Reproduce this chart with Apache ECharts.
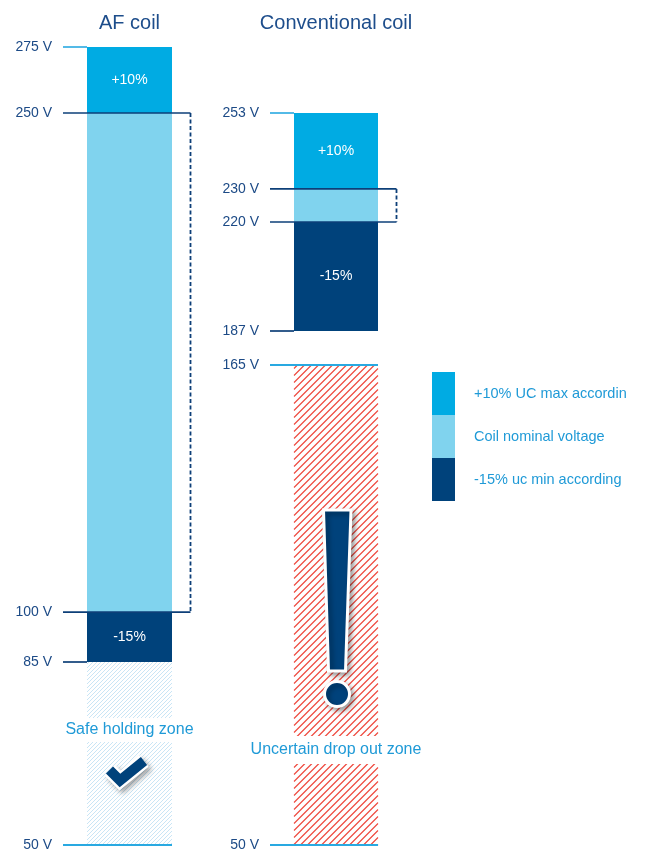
<!DOCTYPE html>
<html><head><meta charset="utf-8">
<script src="https://cdn.jsdelivr.net/npm/echarts@6/dist/echarts.min.js"></script>
<style>html,body{margin:0;padding:0;background:#fff}#c{width:648px;height:851px}</style>
</head><body><div id="c"></div>
<script>
// ---------------- data ----------------
const coilNames   = ['AF coil', 'Conventional coil'];
const ucMax       = [275, 253];   // +10 % upper limit
const nominalHigh = [250, 230];   // coil nominal voltage, upper
const nominalLow  = [100, 220];   // coil nominal voltage, lower
const ucMin       = [85, 187];    // -15 % lower limit
const zoneTop     = [85, 165];    // top of holding / drop-out zone
const zoneBottom  = [50, 50];     // bottom of zone
const bandTexts   = ['+10%', '-15%'];
const zoneTexts   = ['Safe holding zone', 'Uncertain drop out zone'];
const legendNames = ['+10% UC max accordin', 'Coil nominal voltage', '-15% uc min according'];

// ---------------- styles ----------------
const FONT = '"Liberation Sans", Arial, Helvetica, sans-serif';
const C = {
  plus: '#00abe3', nom: '#80d3ee', minus: '#00427b',
  dark: '#0d3f78', light: '#29a9e1', label: '#1c4a86', title: '#1d4d8b',
  zone: '#1f9ad7', red: '#ee4337', blueHatch: '#c9e5f5'
};

// piecewise schematic scale: one linear grid per segment
const grids = [
  {coil: 0, left: 87,  width: 85, top: 47,  height: 66,  min: nominalHigh[0], max: ucMax[0], labels: [ucMax[0]], title: true, gap: 14},
  {coil: 0, left: 87,  width: 85, top: 113, height: 549, min: ucMin[0], max: nominalHigh[0], labels: [nominalHigh[0], nominalLow[0], ucMin[0]]},
  {coil: 0, left: 87,  width: 85, top: 662, height: 183, min: zoneBottom[0], max: zoneTop[0], labels: [zoneBottom[0]]},
  {coil: 1, left: 294, width: 84, top: 113, height: 218, min: ucMin[1], max: ucMax[1], labels: [ucMax[1], nominalHigh[1], nominalLow[1], ucMin[1]], title: true, gap: 80},
  {coil: 1, left: 294, width: 84, top: 365, height: 480, min: zoneBottom[1], max: zoneTop[1], labels: [zoneTop[1], zoneBottom[1]]}
];

const yOf = (api, v) => api.coord([0, v])[1];

function band(gi, lo, hi, color, name, text) {
  return {
    type: 'custom', name, xAxisIndex: gi, yAxisIndex: gi, z: 2, silent: true,
    itemStyle: {color}, encode: {x: 0, y: [1, 2]}, data: [[0, lo, hi]],
    renderItem: (params, api) => {
      const cs = params.coordSys;
      const yH = yOf(api, api.value(2)), yL = yOf(api, api.value(1));
      const ch = [{type: 'rect', shape: {x: cs.x, y: yH, width: cs.width, height: yL - yH}, style: {fill: color}}];
      if (text) ch.push({type: 'text', style: {text, x: cs.x + cs.width / 2, y: (yH + yL) / 2,
        fill: '#fff', fontSize: 14, fontFamily: FONT, align: 'center', verticalAlign: 'middle'}});
      return {type: 'group', children: ch};
    }
  };
}

function tick(gi, values, color, full, width) {
  return {
    type: 'custom', xAxisIndex: gi, yAxisIndex: gi, z: 5, silent: true,
    encode: {x: 0, y: 1}, data: values.map(v => [0, v]),
    renderItem: (params, api) => {
      const cs = params.coordSys, y = yOf(api, api.value(1));
      return {type: 'line', shape: {x1: cs.x - 24, y1: y, x2: full ? cs.x + cs.width : cs.x, y2: y},
        style: {stroke: color, lineWidth: width}};
    }
  };
}

function bracket(gi, lo, hi) {
  return {
    type: 'custom', xAxisIndex: gi, yAxisIndex: gi, z: 5, silent: true,
    encode: {x: 0, y: [1, 2]}, data: [[0, lo, hi]],
    renderItem: (params, api) => {
      const cs = params.coordSys;
      const yH = yOf(api, api.value(2)), yL = yOf(api, api.value(1));
      const x0 = cs.x - 24, x1 = cs.x + cs.width + 18.5;
      const st = {stroke: C.dark, lineWidth: 1.7};
      return {type: 'group', children: [
        {type: 'line', shape: {x1: x0, y1: yH, x2: x1, y2: yH}, style: st},
        {type: 'line', shape: {x1: x0, y1: yL, x2: x1, y2: yL}, style: st},
        {type: 'line', shape: {x1: x1, y1: yH, x2: x1, y2: yL}, style: {stroke: C.dark, lineWidth: 1.8, lineDash: [4, 2.5]}}
      ]};
    }
  };
}

function hatch(x0, y0, x1, y1, step, style) {
  const out = [];
  for (let c = x0 + y0 + step / 2; c < x1 + y1; c += step) {
    const xa = Math.max(x0, c - y1), xb = Math.min(x1, c - y0);
    if (xb <= xa) continue;
    out.push({type: 'line', shape: {x1: xa, y1: c - xa, x2: xb, y2: c - xb}, style});
  }
  return out;
}

const iconShadow = {shadowBlur: 5, shadowColor: 'rgba(0,0,0,0.35)', shadowOffsetX: 3, shadowOffsetY: 3};

function zone(gi, lo, hi, kind) {
  return {
    type: 'custom', xAxisIndex: gi, yAxisIndex: gi, z: 3, silent: true,
    encode: {x: 0, y: [1, 2]}, data: [[0, lo, hi]],
    renderItem: (params, api) => {
      const cs = params.coordSys;
      const yH = yOf(api, api.value(2)), yL = yOf(api, api.value(1));
      const cx = cs.x + cs.width / 2;
      let ch;
      if (kind === 0) {
        ch = hatch(cs.x, yH, cs.x + cs.width, yL, 4, {stroke: C.blueHatch, lineWidth: 1});
        ch.push({type: 'text', style: {text: zoneTexts[0], x: cx, y: yH + 68, fill: C.zone, fontSize: 16,
          fontFamily: FONT, align: 'center', verticalAlign: 'middle', backgroundColor: '#fff', padding: [4, 2]}});
        const yc = yH + 111;
        const pts = [[cx - 20, yc - 3], [cx - 9.5, yc + 7.5], [cx + 14.5, yc - 12]];
        ch.push({type: 'polyline', shape: {points: pts}, style: Object.assign({stroke: '#fff', lineWidth: 15, fill: null, lineJoin: 'miter'}, iconShadow)});
        ch.push({type: 'polyline', shape: {points: pts}, style: {stroke: C.minus, lineWidth: 10, fill: null, lineJoin: 'miter'}});
      } else {
        ch = hatch(cs.x, yH, cs.x + cs.width, yL, 7, {stroke: C.red, lineWidth: 1.1});
        const bar = [[cx - 12.5, yH + 145], [cx + 15, yH + 145], [cx + 9.5, yH + 306], [cx - 7.5, yH + 306]];
        ch.push({type: 'polygon', shape: {points: bar}, style: Object.assign({fill: C.minus, stroke: '#fff', lineWidth: 3}, iconShadow)});
        ch.push({type: 'circle', shape: {cx: cx + 1, cy: yH + 329, r: 12.5}, style: Object.assign({fill: C.minus, stroke: '#fff', lineWidth: 3}, iconShadow)});
        ch.push({type: 'text', style: {text: zoneTexts[1], x: cx, y: yH + 385, fill: C.zone, fontSize: 16,
          fontFamily: FONT, align: 'center', verticalAlign: 'middle', backgroundColor: '#fff', padding: [6, 2]}});
      }
      return {type: 'group', children: ch};
    }
  };
}

const option = {
  animation: false,
  backgroundColor: '#fff',
  textStyle: {fontFamily: FONT},
  grid: grids.map(g => ({left: g.left, top: g.top, width: g.width, height: g.height, containLabel: false, outerBoundsMode: 'none'})),
  xAxis: grids.map((g, i) => ({
    gridIndex: i, type: 'category', data: [coilNames[g.coil]], position: 'top', show: !!g.title,
    name: g.title ? coilNames[g.coil] : '', nameLocation: 'middle', nameGap: g.gap || 0,
    nameTextStyle: {color: C.title, fontSize: 20, fontFamily: FONT},
    axisLine: {show: false}, axisTick: {show: false}, axisLabel: {show: false}, splitLine: {show: false}
  })),
  yAxis: grids.map((g, i) => ({
    gridIndex: i, type: 'value', min: g.min, max: g.max,
    axisLine: {show: false}, axisTick: {show: false}, splitLine: {show: false},
    axisLabel: {customValues: g.labels, formatter: '{value} V', color: C.label, fontSize: 14, fontFamily: FONT, margin: 35}
  })),
  legend: {
    orient: 'vertical', left: 432, top: 372, padding: 0, itemWidth: 23, itemHeight: 43, itemGap: 0, icon: 'rect',
    selectedMode: false, data: legendNames,
    textStyle: {color: C.zone, fontSize: 14.5, fontFamily: FONT, padding: [0, 0, 0, 14]}
  },
  series: [
    band(0, nominalHigh[0], ucMax[0], C.plus, legendNames[0], bandTexts[0]),
    band(1, nominalLow[0], nominalHigh[0], C.nom, legendNames[1], ''),
    band(1, ucMin[0], nominalLow[0], C.minus, legendNames[2], bandTexts[1]),
    band(3, nominalHigh[1], ucMax[1], C.plus, legendNames[0], bandTexts[0]),
    band(3, nominalLow[1], nominalHigh[1], C.nom, legendNames[1], ''),
    band(3, ucMin[1], nominalLow[1], C.minus, legendNames[2], bandTexts[1]),
    zone(2, zoneBottom[0], zoneTop[0], 0),
    zone(4, zoneBottom[1], zoneTop[1], 1),
    tick(0, [ucMax[0]], C.light, false, 1.6),
    tick(1, [ucMin[0]], C.dark, false, 1.7),
    bracket(1, nominalLow[0], nominalHigh[0]),
    tick(2, [zoneBottom[0]], C.light, true, 2),
    tick(3, [ucMax[1]], C.light, false, 1.6),
    tick(3, [ucMin[1]], C.dark, false, 1.7),
    bracket(3, nominalLow[1], nominalHigh[1]),
    tick(4, [zoneTop[1], zoneBottom[1]], C.light, true, 2)
  ]
};
const chart = echarts.init(document.getElementById('c'));
chart.setOption(option);
</script></body></html>
